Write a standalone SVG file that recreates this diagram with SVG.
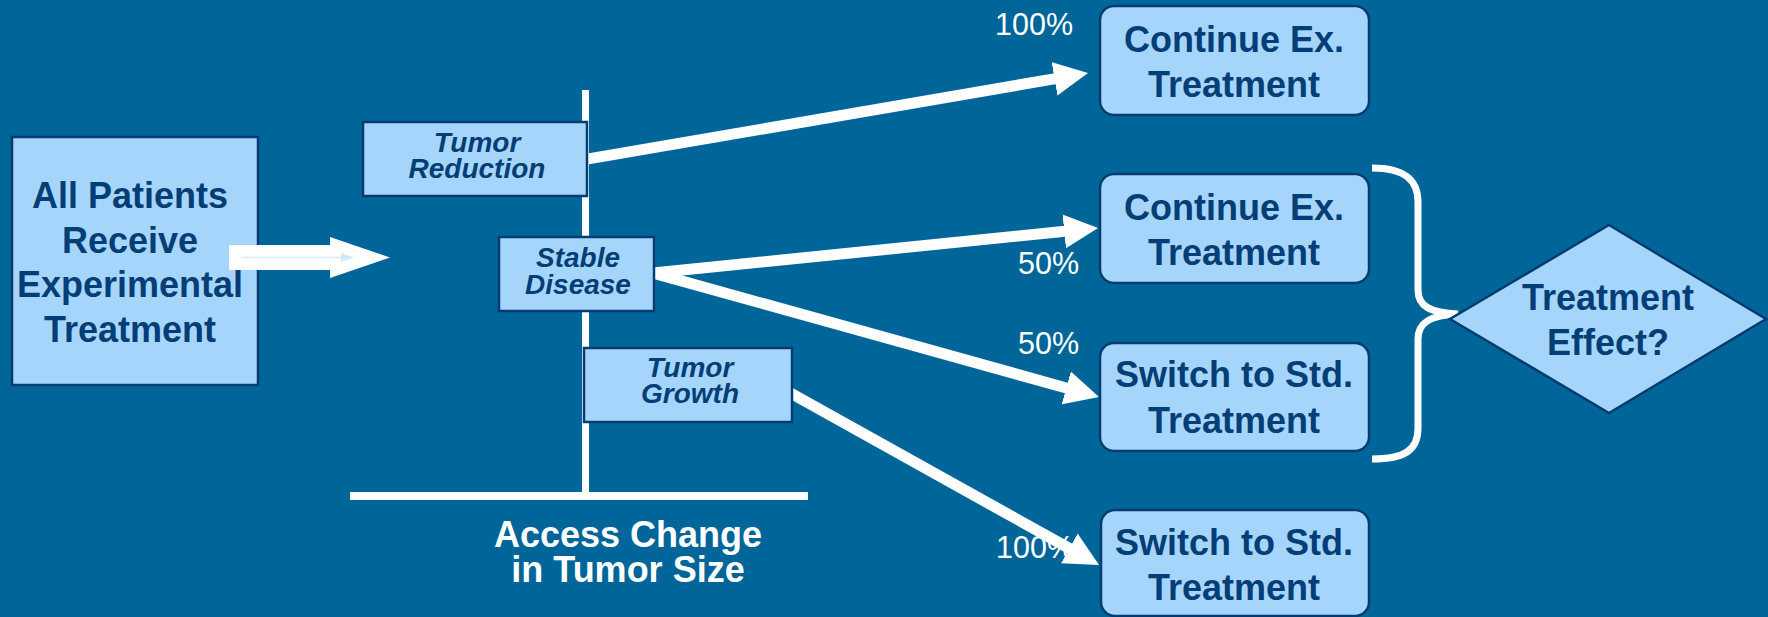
<svg xmlns="http://www.w3.org/2000/svg" width="1768" height="617" viewBox="0 0 1768 617">
  <style>
    .box { fill: #A6D5FC; stroke: #023C72; stroke-width: 2.5; }
    .lbl { font-family: "Liberation Sans", Arial, sans-serif; font-weight: bold; font-size: 36px; fill: #033E76; text-anchor: middle; }
    .ital { font-family: "Liberation Sans", Arial, sans-serif; font-weight: bold; font-style: italic; font-size: 28px; fill: #033E76; text-anchor: middle; }
    .axis { font-family: "Liberation Sans", Arial, sans-serif; font-weight: bold; font-size: 36px; fill: #FFFFFF; text-anchor: middle; }
    .pct { font-family: "Liberation Sans", Arial, sans-serif; font-size: 30.5px; fill: #FFFFFF; }
    .conn { stroke: #FFFFFF; stroke-width: 11; fill: none; marker-end: url(#head); }
    .rule { stroke: #FFFFFF; fill: none; }
  </style>
  <defs>
    <marker id="head" markerUnits="userSpaceOnUse" viewBox="0 -18 36 36" markerWidth="36" markerHeight="36" refX="1" refY="0" orient="auto">
      <path d="M0,-17 L34,0 L0,17 Z" fill="#FFFFFF"/>
    </marker>
  </defs>

  <rect width="1768" height="617" fill="#006699"/>

  <!-- tumour-size axis -->
  <g id="axis">
    <line class="rule" x1="585.5" y1="90" x2="585.5" y2="496" stroke-width="7"/>
    <line class="rule" x1="350" y1="496" x2="808" y2="496" stroke-width="8"/>
    <text class="axis" x="628" y="547">Access Change</text>
    <text class="axis" x="628" y="582">in Tumor Size</text>
  </g>

  <!-- branch probabilities -->
  <g id="probabilities">
    <text class="pct" x="995" y="35">100%</text>
    <text class="pct" x="1018" y="274">50%</text>
    <text class="pct" x="1018" y="354">50%</text>
    <text class="pct" x="996" y="558">100%</text>
  </g>

  <g id="all-patients">
    <rect class="box" x="12" y="137" width="246" height="248"/>
    <text class="lbl" x="130" y="208">All Patients</text>
    <text class="lbl" x="130" y="253">Receive</text>
    <text class="lbl" x="130" y="297">Experimental</text>
    <text class="lbl" x="130" y="342">Treatment</text>
  </g>

  <g id="connectors">
    <!-- block arrow into the assessment -->
    <path d="M229,245 L330,245 L330,237 L390,257.5 L330,278 L330,270 L229,270 Z" fill="#FFFFFF"/>
    <line x1="241" y1="257.5" x2="342" y2="257.5" stroke="#D4EAFC" stroke-width="1.5"/>
    <path d="M341,253 L354,257.5 L341,262 Z" fill="#D4EAFC"/>
    <!-- outcome branches -->
    <line class="conn" x1="584" y1="159.7" x2="1055.5" y2="78.6"/>
    <line class="conn" x1="648" y1="273.5" x2="1065.2" y2="231.3"/>
    <line class="conn" x1="648" y1="271.6" x2="1067.2" y2="388.2"/>
    <line class="conn" x1="790" y1="392.7" x2="1070.2" y2="548.9"/>
    <!-- brace grouping the randomised arms -->
    <path class="rule" stroke-width="7" d="M1372,168 C1405,168 1418,180 1418,202 L1418,290 C1418,306 1430,313 1458,314 C1430,315 1418,323 1418,339 L1418,428 C1418,450 1405,459 1372,459"/>
  </g>

  <g id="tumor-reduction">
    <rect class="box" x="363" y="122" width="224" height="74"/>
    <text class="ital" x="477" y="152">Tumor</text>
    <text class="ital" x="477" y="178">Reduction</text>
  </g>

  <g id="stable-disease">
    <rect class="box" x="499" y="237" width="155" height="74"/>
    <text class="ital" x="578" y="267">Stable</text>
    <text class="ital" x="578" y="294">Disease</text>
  </g>

  <g id="tumor-growth">
    <rect class="box" x="584" y="348" width="208" height="74"/>
    <text class="ital" x="690" y="377">Tumor</text>
    <text class="ital" x="690" y="403">Growth</text>
  </g>

  <g id="continue-1">
    <rect class="box" x="1100" y="6" width="269" height="109" rx="14"/>
    <text class="lbl" x="1234" y="51.5">Continue Ex.</text>
    <text class="lbl" x="1234" y="96.5">Treatment</text>
  </g>

  <g id="continue-2">
    <rect class="box" x="1100" y="174" width="269" height="109" rx="14"/>
    <text class="lbl" x="1234" y="219.5">Continue Ex.</text>
    <text class="lbl" x="1234" y="264.5">Treatment</text>
  </g>

  <g id="switch-1">
    <rect class="box" x="1100" y="343" width="269" height="108" rx="14"/>
    <text class="lbl" x="1234" y="387">Switch to Std.</text>
    <text class="lbl" x="1234" y="432.5">Treatment</text>
  </g>

  <g id="switch-2">
    <rect class="box" x="1101" y="510" width="268" height="106" rx="14"/>
    <text class="lbl" x="1234" y="555">Switch to Std.</text>
    <text class="lbl" x="1234" y="599.5">Treatment</text>
  </g>

  <g id="treatment-effect">
    <path class="box" d="M1609,225 L1766,319 L1609,413 L1450,319 Z"/>
    <text class="lbl" x="1608" y="310">Treatment</text>
    <text class="lbl" x="1608" y="355">Effect?</text>
  </g>
</svg>
